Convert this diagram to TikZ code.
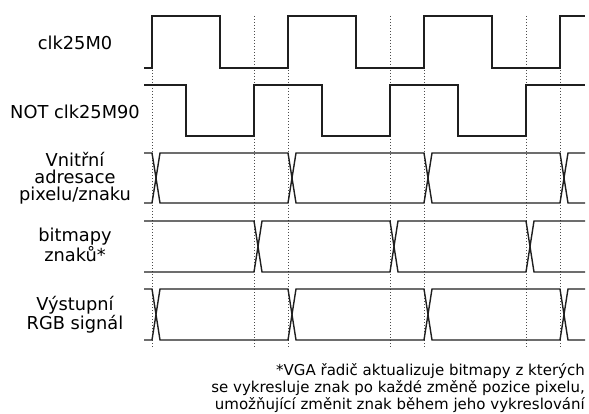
\documentclass[tikz,border=0pt]{standalone}
\usepackage{fontspec}
\setmainfont{DejaVu Sans}
\begin{document}
\begin{tikzpicture}[x=1pt,y=-1pt,
  sig/.style={line width=1.4pt,color=black!88,line join=miter},
  grid/.style={line width=1pt,color=black!70,dash pattern=on 1pt off 2pt},
  lbl/.style={font=\fontsize{17.8}{17.5}\selectfont,align=center,anchor=base,inner sep=0pt},
  note/.style={font=\fontsize{15}{17}\selectfont,align=right,anchor=base east,inner sep=0pt}]
\useasboundingbox (0,0) rectangle (589,414);
% dotted guide lines
\foreach \t in {152,254,288,390,424,526,560}
  \draw[grid] (\t,16) -- (\t,348);
% clk25M0
\draw[sig] (144,68) -- (152,68) -- (152,16) -- (220,16) -- (220,68) -- (288,68) -- (288,16) -- (356,16) -- (356,68) -- (424,68) -- (424,16) -- (492,16) -- (492,68) -- (560,68) -- (560,16) -- (585,16);
% NOT clk25M90
\draw[sig] (144,85) -- (186,85) -- (186,136) -- (254,136) -- (254,85) -- (322,85) -- (322,136) -- (390,136) -- (390,85) -- (458,85) -- (458,136) -- (526,136) -- (526,85) -- (585,85);
% Vnitrni adresace (153..203), transitions 152,288,424,560
\draw[sig] (144,153) -- (152,153) -- (160,203) -- (288,203) -- (296,153) -- (424,153) -- (432,203) -- (560,203) -- (568,153) -- (585,153);
\draw[sig] (144,203) -- (152,203) -- (160,153) -- (288,153) -- (296,203) -- (424,203) -- (432,153) -- (560,153) -- (568,203) -- (585,203);
% bitmapy (221..272), transitions 254,390,526
\draw[sig] (144,221) -- (254,221) -- (262,272) -- (390,272) -- (398,221) -- (526,221) -- (534,272) -- (585,272);
\draw[sig] (144,272) -- (254,272) -- (262,221) -- (390,221) -- (398,272) -- (526,272) -- (534,221) -- (585,221);
% Vystupni RGB (289..340)
\draw[sig] (144,289) -- (152,289) -- (160,340) -- (288,340) -- (296,289) -- (424,289) -- (432,340) -- (560,340) -- (568,289) -- (585,289);
\draw[sig] (144,340) -- (152,340) -- (160,289) -- (288,289) -- (296,340) -- (424,340) -- (432,289) -- (560,289) -- (568,340) -- (585,340);
% labels (anchor=base: baseline of the last line)
\node[lbl] (l1) at (75,49.5) {clk25M0};
\node[lbl] (l2) at (75,118.3) {NOT clk25M90};
\node[lbl] (l3) at (75,201) {Vnitřní\\adresace\\pixelu/znaku};
\node[lbl] (l4) at (75,261.5) {bitmapy\\znaků*};
\node[lbl] (l5) at (75,329) {Výstupní\\RGB signál};
\node[note] (n) at (585,409) {*VGA řadič aktualizuje bitmapy z kterých\\se vykresluje znak po každé změně pozice pixelu,\\umožňující změnit znak během jeho vykreslování};
\end{tikzpicture}
\end{document}
